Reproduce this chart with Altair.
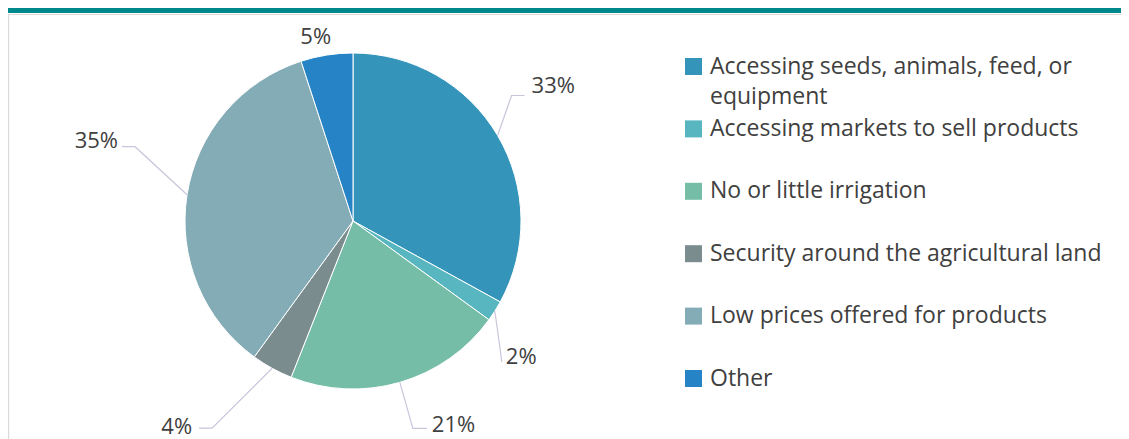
import math
import textwrap
import altair as alt
import pandas as pd

# ---------------- data ----------------
categories = [
    "Accessing seeds, animals, feed, or equipment",
    "Accessing markets to sell products",
    "No or little irrigation",
    "Security around the agricultural land",
    "Low prices offered for products",
    "Other",
]
values = [33, 2, 21, 4, 35, 5]
colors = ["#3494BA", "#58B6C0", "#75BDA7", "#7A8C8E", "#84ACB6", "#2683C6"]

# ---------------- layout / style ----------------
W, H = 1113, 431
CX, CY, R = 345, 213, 168
FONT = "Open Sans"
TXT = "#404040"
LEADER = "#C9C6DA"
TEAL = "#00898D"

# leader elbows relative to slice edge point, tail length, label offset from tail end, alignment
label_layout = [
    dict(elbow=(14, -40), tail=13, label=(7, -9), align="left"),
    dict(elbow=(7, 51), tail=0, label=(4, -5), align="left"),
    dict(elbow=(13, 46), tail=14, label=(5, -3), align="left"),
    dict(elbow=(-60, 60), tail=-13, label=(-7, -1), align="right"),
    dict(elbow=(-52, -48), tail=-13, label=(-4, -6), align="right"),
    dict(elbow=None, tail=0, label=(-11, -18), align="center"),
]

LEG_X = 685.5
LEG_TX = 702
LEG_Y0 = 58.5
LEG_STEP = 62.4
LEG_LINE = 30

# ---------------- derived tables ----------------
total = sum(values)
pie_df = pd.DataFrame({"cat": categories, "value": values, "idx": range(len(values))})

leader_rows, label_rows = [], []
cum = 0
for i, (cat, v) in enumerate(zip(categories, values)):
    mid = 2 * math.pi * (cum + v / 2) / total
    cum += v
    ex, ey = CX + R * math.sin(mid), CY - R * math.cos(mid)
    lay = label_layout[i]
    if lay["elbow"] is not None:
        bx, by = ex + lay["elbow"][0], ey + lay["elbow"][1]
        tx, ty = bx + lay["tail"], by
        pts = [(ex, ey), (bx, by), (tx, ty)]
        for k, (px, py) in enumerate(pts):
            leader_rows.append({"cat": cat, "k": k, "px": px, "py": py})
    else:
        tx, ty = ex, ey
    label_rows.append({
        "cat": cat, "pct": f"{v}%", "align": lay["align"],
        "px": tx + lay["label"][0], "py": ty + lay["label"][1],
    })
leader_df = pd.DataFrame(leader_rows)
label_df = pd.DataFrame(label_rows)

leg_sq = pd.DataFrame({
    "cat": categories,
    "px": [LEG_X] * len(categories),
    "py": [LEG_Y0 + LEG_STEP * i for i in range(len(categories))],
})
leg_txt_rows = []
for i, cat in enumerate(categories):
    for j, line in enumerate(textwrap.wrap(cat, 37)):
        leg_txt_rows.append({"t": line, "px": LEG_TX, "py": LEG_Y0 + LEG_STEP * i + LEG_LINE * j})
leg_txt = pd.DataFrame(leg_txt_rows)

# ---------------- chart ----------------
xs = alt.Scale(domain=[0, W], range=[0, W], nice=False, zero=False)
ys = alt.Scale(domain=[0, H], range=[0, H], nice=False, zero=False)
cscale = alt.Scale(domain=categories, range=colors)
X = alt.X("px:Q", scale=xs, axis=None)
Y = alt.Y("py:Q", scale=ys, axis=None)

one = pd.DataFrame({"a": [0]})
strip = alt.Chart(one).mark_rect(color=TEAL).encode(
    x=alt.value(0), x2=alt.value(W), y=alt.value(0), y2=alt.value(5))
border_top = alt.Chart(one).mark_rule(color="#DADADA", strokeWidth=1.2).encode(
    x=alt.value(0), x2=alt.value(W), y=alt.value(6.5))
border_left = alt.Chart(one).mark_rule(color="#DADADA", strokeWidth=1.2).encode(
    x=alt.value(0.6), y=alt.value(6.5), y2=alt.value(H))

pie = alt.Chart(pie_df).mark_arc(outerRadius=R, stroke="white", strokeWidth=1).encode(
    theta=alt.Theta("value:Q", stack=True),
    color=alt.Color("cat:N", scale=cscale, legend=None),
    order=alt.Order("idx:Q"),
    x=alt.value(CX), y=alt.value(CY),
)

leaders = alt.Chart(leader_df).mark_line(color=LEADER, strokeWidth=1.2).encode(
    x=X, y=Y, detail="cat:N", order="k:Q")

label_layers = []
for al in ["left", "right", "center"]:
    sub = label_df[label_df["align"] == al]
    label_layers.append(
        alt.Chart(sub).mark_text(font=FONT, fontSize=22, color=TXT, align=al, baseline="middle")
        .encode(x=X, y=Y, text="pct:N"))

leg_squares = alt.Chart(leg_sq).mark_square(size=289, opacity=1).encode(
    x=X, y=Y, color=alt.Color("cat:N", scale=cscale, legend=None))
leg_text = alt.Chart(leg_txt).mark_text(font=FONT, fontSize=23, color=TXT, align="left", baseline="middle").encode(
    x=X, y=Y, text="t:N")

chart = alt.layer(
    strip, border_top, border_left, pie, leaders, *label_layers, leg_squares, leg_text
).properties(
    width=W, height=H, padding=0, autosize=alt.AutoSizeParams(type="none"), background="white"
).configure_view(stroke=None)

chart.save("out.html", embed_options={"renderer": "svg", "actions": False})
